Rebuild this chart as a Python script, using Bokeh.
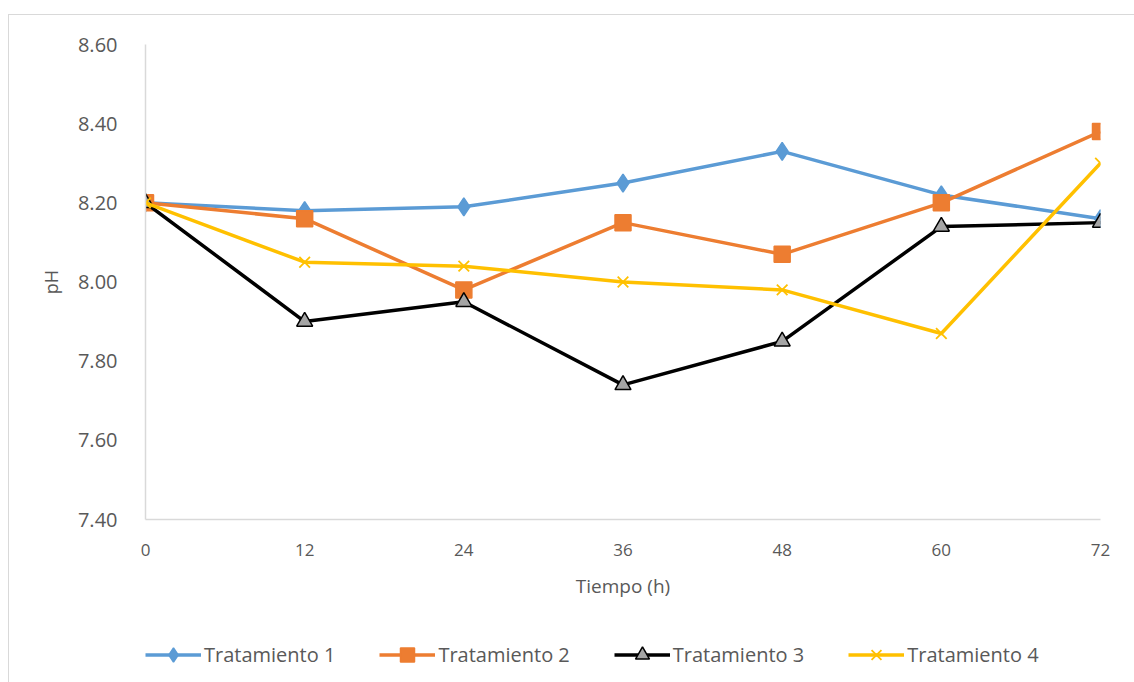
from bokeh.plotting import figure
from bokeh.layouts import column
from bokeh.models import FixedTicker, Legend, LegendItem, NumeralTickFormatter
from bokeh.embed import file_html
from bokeh.resources import INLINE

# Sampling times (h) and pH of each treatment
tiempo = [0, 12, 24, 36, 48, 60, 72]
tratamiento_1 = [8.20, 8.18, 8.19, 8.25, 8.33, 8.22, 8.16]
tratamiento_2 = [8.20, 8.16, 7.98, 8.15, 8.07, 8.20, 8.38]
tratamiento_3 = [8.20, 7.90, 7.95, 7.74, 7.85, 8.14, 8.15]
tratamiento_4 = [8.20, 8.05, 8.04, 8.00, 7.98, 7.87, 8.30]
y_ticks = [7.40, 7.60, 7.80, 8.00, 8.20, 8.40, 8.60]
nombres = ["Tratamiento 1", "Tratamiento 2", "Tratamiento 3", "Tratamiento 4"]

FONT = "Open Sans"
TEXT = "#595959"
AXIS = "#d9d9d9"

p = figure(
    width=1125, height=605,
    x_range=(0, 72), y_range=(7.40, 8.60),
    output_backend="svg", toolbar_location=None,
    min_border_left=136, min_border_right=34,
    min_border_top=29, min_border_bottom=101,
)
p.outline_line_color = None
p.background_fill_color = "white"
p.border_fill_color = "white"
p.grid.visible = False

# axes
for ax in (p.xaxis[0], p.yaxis[0]):
    ax.axis_line_color = AXIS
    ax.axis_line_width = 1.5
    ax.major_tick_line_color = None
    ax.minor_tick_line_color = None
    ax.major_label_text_font = FONT
    ax.major_label_text_color = TEXT
    ax.axis_label_text_font = FONT
    ax.axis_label_text_color = TEXT
    ax.axis_label_text_font_style = "normal"

p.xaxis.ticker = FixedTicker(ticks=tiempo)
p.xaxis.major_label_text_font_size = "17px"
p.xaxis.major_label_standoff = 18
p.xaxis.axis_label = "Tiempo (h)"
p.xaxis.axis_label_text_font_size = "19px"
p.xaxis.axis_label_standoff = 14

p.yaxis.ticker = FixedTicker(ticks=y_ticks)
p.yaxis.formatter = NumeralTickFormatter(format="0.00")
p.yaxis.major_label_text_font_size = "20px"
p.yaxis.major_label_standoff = 22
p.yaxis.axis_label = "pH"
p.yaxis.axis_label_text_font_size = "18px"
p.yaxis.axis_label_standoff = 12

estilos = [
    ("#5B9BD5", "diamond", 18, "#5B9BD5", "#5B9BD5"),
    ("#ED7D31", "square", 16, "#ED7D31", "#ED7D31"),
    ("#000000", "triangle", 16, "#A5A5A5", "#000000"),
    ("#FFC000", "x", 15, None, "#FFC000"),
]
valores = [tratamiento_1, tratamiento_2, tratamiento_3, tratamiento_4]

for vals, (color, marker, size, fill, mline) in zip(valores, estilos):
    p.line(tiempo, vals, line_color=color, line_width=3.5, line_join="round")
    p.scatter(tiempo, vals, marker=marker, size=size,
              fill_color=fill, line_color=mline,
              line_width=1.5 if marker != "x" else 1.8)

# legend strip under the chart; its series sit outside its y range,
# so only the legend swatches (same line + marker styles) are seen
leg = figure(
    width=1125, height=62,
    x_range=(0, 72), y_range=(20, 21),
    output_backend="svg", toolbar_location=None,
    x_axis_location=None, y_axis_location=None,
    min_border_left=117, min_border_right=34,
    min_border_top=0, min_border_bottom=0,
)
leg.outline_line_color = None
leg.grid.visible = False
items = []
for name, vals, (color, marker, size, fill, mline) in zip(nombres, valores, estilos):
    ln = leg.line(tiempo, vals, line_color=color, line_width=3.5)
    sc = leg.scatter(tiempo, vals, marker=marker, size=size,
                     fill_color=fill, line_color=mline,
                     line_width=1.5 if marker != "x" else 1.8)
    items.append(LegendItem(label=name, renderers=[ln, sc]))

legend = Legend(items=items, orientation="horizontal", location=(0, 10))
legend.label_text_font = FONT
legend.label_text_font_size = "20px"
legend.label_text_color = TEXT
legend.glyph_width = 56
legend.glyph_height = 35
legend.label_standoff = 3
legend.spacing = 44
legend.padding = 4
legend.margin = 0
legend.border_line_color = None
legend.background_fill_alpha = 0
leg.add_layout(legend, "center")

layout = column(p, leg, spacing=0)
layout.margin = (14, 0, 0, 8)
layout.styles = {"border-top": "1px solid #d9d9d9", "border-left": "1px solid #d9d9d9"}

open("out.html", "w").write(file_html(layout, INLINE))
